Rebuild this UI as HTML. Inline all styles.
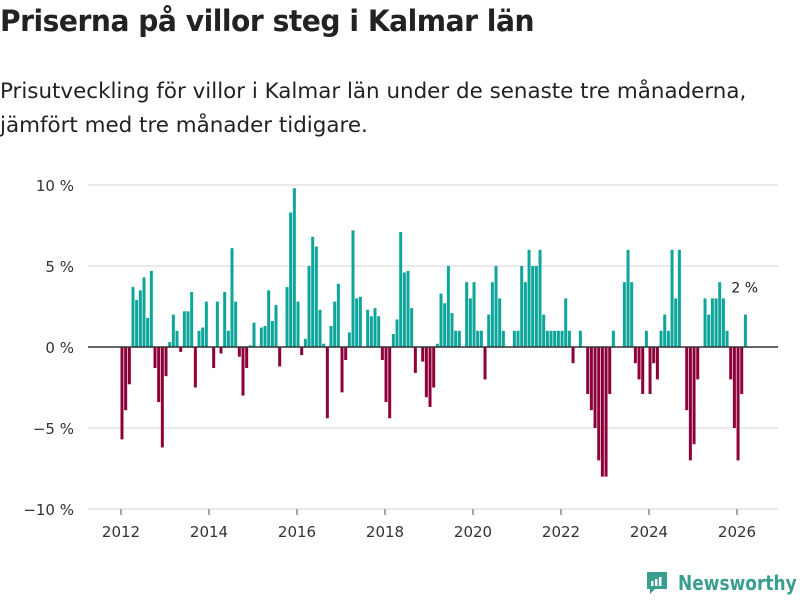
<!DOCTYPE html>
<html><head><meta charset="utf-8">
<style>
body{margin:0;width:800px;height:600px;background:#fff;font-family:"Liberation Sans","DejaVu Sans",sans-serif;color:#222;overflow:hidden;position:relative}
h1{position:absolute;left:0;top:4px;margin:0;font-size:29px;font-weight:bold;font-family:"DejaVu Sans","Liberation Sans",sans-serif;letter-spacing:-0.5px;transform:scaleX(0.97);transform-origin:left;white-space:nowrap}
.sub{position:absolute;left:0;top:74px;margin:0;font-size:21px;line-height:34px;font-family:"DejaVu Sans","Liberation Sans",sans-serif;transform:scaleX(1.02);transform-origin:left;white-space:nowrap}
svg{position:absolute;left:0;top:0}
</style></head><body>
<h1>Priserna på villor steg i Kalmar län</h1>
<p class="sub">Prisutveckling för villor i Kalmar län under de senaste tre månaderna,<br>jämfört med tre månader tidigare.</p>
<svg id="chart" width="800" height="600"></svg>
<div style="position:absolute;left:645px;top:570px;display:flex;align-items:center">
<svg width="24" height="26" style="position:static"><path d="M2 2h20v17H10l-5 5v-5H2z" fill="#3a9e8f"/><rect x="6" y="11" width="2.5" height="5" fill="#fff"/><rect x="10" y="9" width="2.5" height="7" fill="#fff"/><rect x="14" y="7" width="2.5" height="9" fill="#fff"/></svg>
<span style="margin-left:9px;font-size:20px;font-weight:bold;color:#3a9e8f;font-family:'DejaVu Sans','Liberation Sans',sans-serif;transform:scaleX(0.85);transform-origin:left;display:inline-block;white-space:nowrap">Newsworthy</span>
</div>
<script>
const values = [-5.7,-3.9,-2.3,3.7,2.9,3.5,4.3,1.8,4.7,-1.3,-3.4,-6.2,
-1.8,0.3,2.0,1.0,-0.3,2.2,2.2,3.4,-2.5,1.0,1.2,2.8,
0,-1.3,2.8,-0.4,3.4,1.0,6.1,2.8,-0.6,-3.0,-1.3,0.1,
1.5,0,1.2,1.3,3.5,1.6,2.6,-1.2,0,3.7,8.3,9.8,
2.8,-0.5,0.5,5.0,6.8,6.2,2.3,0.2,-4.4,1.3,2.8,3.9,
-2.8,-0.8,0.9,7.2,3.0,3.1,0,2.3,1.9,2.4,1.9,-0.8,
-3.4,-4.4,0.8,1.7,7.1,4.6,4.7,2.4,-1.6,0,-0.9,-3.1,
-3.7,-2.5,0.2,3.3,2.7,5.0,2.1,1.0,1.0,0,4.0,3.0,
4.0,1.0,1.0,-2.0,2.0,4.0,5.0,3.0,1.0,0,0,1.0,
1.0,5.0,4.0,6.0,5.0,5.0,6.0,2.0,1.0,1.0,1.0,1.0,
1.0,3.0,1.0,-1.0,0,1.0,0,-2.9,-3.9,-5.0,-7.0,-8.0,
-8.0,-2.9,1.0,0,0,4.0,6.0,4.0,-1.0,-2.0,-2.9,1.0,
-2.9,-1.0,-2.0,1.0,2.0,1.0,6.0,3.0,6.0,0,-3.9,-7.0,
-6.0,-2.0,0,3.0,2.0,3.0,3.0,4.0,3.0,1.0,-2.0,-5.0,
-7.0,-2.9,2.0];
const yTicks = [10,5,0,-5,-10];
const yTickLabels = ["10 %","5 %","0 %","−5 %","−10 %"];
const xTicks = [2012,2014,2016,2018,2020,2022,2024,2026];
const startYear = 2012;
const lastLabel = "2 %";

const svg = document.getElementById('chart');
const NS = 'http://www.w3.org/2000/svg';
const y = v => 347 - v * 16.2;
const xm = i => 122 + i * 3.667;
const xy = yr => 121 + (yr - startYear) * 44;
function el(t, a){const e=document.createElementNS(NS,t);for(const k in a)e.setAttribute(k,a[k]);svg.appendChild(e);return e;}

yTicks.forEach((t,k)=>{
  if(t!==0){const g=el('line',{x1:88,x2:778,y1:y(t),y2:y(t),stroke:'#ddd','stroke-width':1.3});
  
  }
  const tx=el('text',{x:74,y:y(t)+6,'text-anchor':'end','font-size':15,fill:'#333','font-family':'DejaVu Sans, Liberation Sans, sans-serif'});
  tx.textContent=yTickLabels[k];
  
  
});
xTicks.forEach(t=>{
  const l=el('line',{x1:xy(t),x2:xy(t),y1:509,y2:515,stroke:'#555','stroke-width':1});
  
  
  const tx=el('text',{x:xy(t),y:537,'text-anchor':'middle','font-size':15,fill:'#333','font-family':'DejaVu Sans, Liberation Sans, sans-serif'});
  tx.textContent=t;
  
  
});
values.forEach((v,i)=>{
  if(v===0)return;
  const r=el('rect',{x:xm(i)-1.5,width:3,y:Math.min(y(v),y(0)),height:Math.abs(y(v)-y(0)),fill:v>0?'#0ea59a':'#8e0039'});
  
  
});
const z=el('line',{x1:88,x2:778,y1:y(0),y2:y(0),stroke:'#333','stroke-width':1.5});


const li=values.length-1;
const lab=el('text',{x:xm(li)-14,y:y(values[li])-22,'font-size':14,fill:'#222','font-family':'DejaVu Sans, Liberation Sans, sans-serif'});
lab.textContent=lastLabel;


</script>
</body></html>
